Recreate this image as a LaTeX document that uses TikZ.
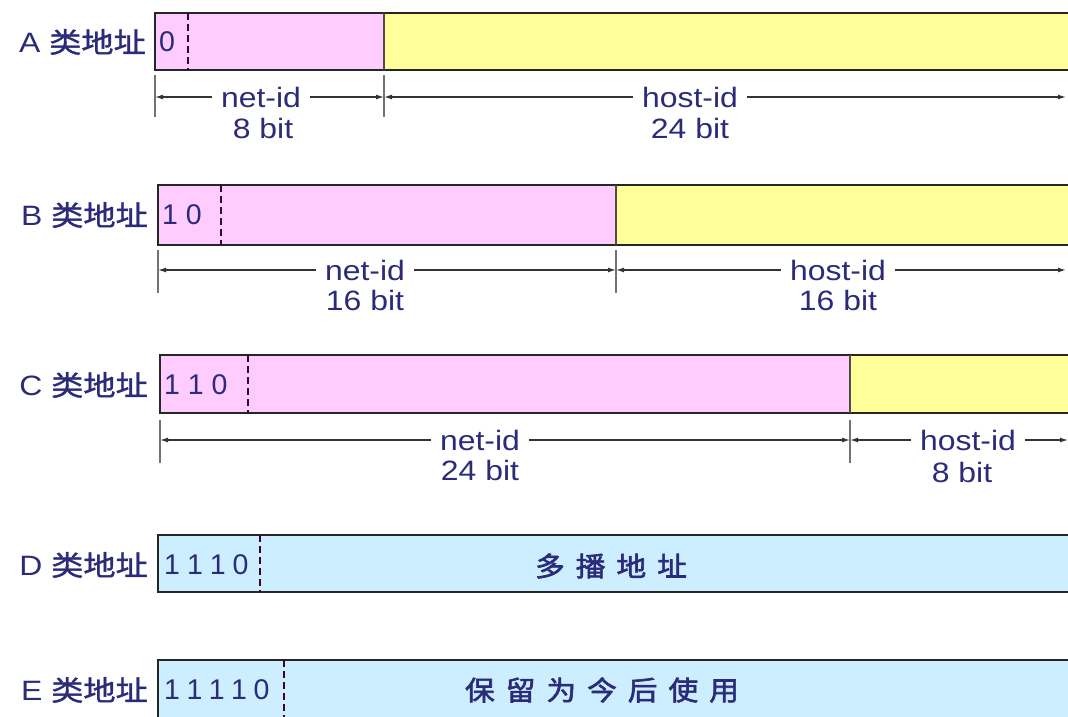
\documentclass[tikz,border=0pt]{standalone}
\usepackage{fontspec}
\setmainfont[FakeStretch=1.14]{Liberation Sans}
\newfontfamily\plain{Liberation Sans}
\newfontfamily\cjk[FakeBold=1.2, FakeStretch=1.15]{Noto Sans CJK SC}
\newfontfamily\cjkb[FakeBold=2.2, FakeStretch=1.1]{Noto Sans CJK SC}
\usetikzlibrary{arrows.meta}
\definecolor{txt}{HTML}{2B2B7A}
\definecolor{pinkf}{HTML}{FFCCFF}
\definecolor{yellowf}{HTML}{FFFF99}
\definecolor{bluef}{HTML}{CCEEFF}
\newcommand{\cs}{\hspace{11pt}}
\begin{document}
\begin{tikzpicture}[x=1pt,y=-1pt,
 lbl/.style={text=txt,font=\fontsize{28}{30}\selectfont, inner sep=0pt},
 digits/.style={text=txt,font=\plain\fontsize{28.5}{30}\selectfont, inner sep=0pt},
 boxline/.style={draw=black!85, line width=2.6pt},
 divider/.style={draw=black!70, line width=1.6pt},
 dashdiv/.style={draw=violet!50!black, line width=2pt, dash pattern=on 7pt off 4pt},
 tickline/.style={draw=black!55, line width=1.6pt},
 dim/.style={draw=black!80, line width=1.3pt, {Latex[length=8pt,width=5pt]}-{Latex[length=8pt,width=5pt]}},
 dimtxt/.style={lbl, fill=white, inner xsep=9pt, inner ysep=2pt},
]
\useasboundingbox (0,0) rectangle (1068,716);
\clip (0,0) rectangle (1068,716);
\fill[white] (0,0) rectangle (1068,716);

% ---------- A ----------
\fill[pinkf] (155,13) rectangle (384,70);
\fill[yellowf] (384,13) rectangle (1080,70);
\draw[boxline] (1080,13) -- (155,13) -- (155,70) -- (1080,70);
\draw[divider] (384,13) -- (384,70);
\draw[dashdiv] (188,13) -- (188,70);
\node[lbl, anchor=east] (la) at (146,42) {A {\cjk 类地址}};
\node[digits, anchor=west] (ba) at (159,42) {0};
\draw[tickline] (155,75) -- (155,117);
\draw[tickline] (384,75) -- (384,117);
\coordinate (a0) at (155,97);
\coordinate (a1) at (384,97);
\coordinate (a2) at (1066,97);
\draw[dim] (a0) -- (a1);
\draw[dim] (a1) -- (a2);
\node[dimtxt] (an) at (261,97) {net-id};
\node[lbl] (anb) at (263,128) {8 bit};
\node[dimtxt] (ah) at (690,97) {host-id};
\node[lbl] (ahb) at (690,128) {24 bit};

% ---------- B ----------
\fill[pinkf] (158,185) rectangle (616,245);
\fill[yellowf] (616,185) rectangle (1080,245);
\draw[boxline] (1080,185) -- (158,185) -- (158,245) -- (1080,245);
\draw[divider] (616,185) -- (616,245);
\draw[dashdiv] (221,185) -- (221,245);
\node[lbl, anchor=east] (lb) at (148,215) {B {\cjk 类地址}};
\node[digits, anchor=west] (bb) at (162,215) {1 0};
\draw[tickline] (158,250) -- (158,293);
\draw[tickline] (616,250) -- (616,293);
\coordinate (b0) at (158,270);
\coordinate (b1) at (616,270);
\coordinate (b2) at (1066,270);
\draw[dim] (b0) -- (b1);
\draw[dim] (b1) -- (b2);
\node[dimtxt] (bn) at (365,270) {net-id};
\node[lbl] (bnb) at (365,300) {16 bit};
\node[dimtxt] (bh) at (838,270) {host-id};
\node[lbl] (bhb) at (838,300) {16 bit};

% ---------- C ----------
\fill[pinkf] (160,355) rectangle (850,413);
\fill[yellowf] (850,355) rectangle (1080,413);
\draw[boxline] (1080,355) -- (160,355) -- (160,413) -- (1080,413);
\draw[divider] (850,355) -- (850,413);
\draw[dashdiv] (248,355) -- (248,413);
\node[lbl, anchor=east] (lc) at (148,385) {C {\cjk 类地址}};
\node[digits, anchor=west] (bc) at (164,385) {1 1 0};
\draw[tickline] (160,420) -- (160,463);
\draw[tickline] (850,420) -- (850,463);
\coordinate (c0) at (160,440);
\coordinate (c1) at (850,440);
\coordinate (c2) at (1068,440);
\draw[dim] (c0) -- (c1);
\draw[dim] (c1) -- (c2);
\node[dimtxt] (cn) at (480,440) {net-id};
\node[lbl] (cnb) at (480,470) {24 bit};
\node[dimtxt] (ch) at (968,440) {host-id};
\node[lbl] (chb) at (962,472) {8 bit};

% ---------- D ----------
\fill[bluef] (158,535) rectangle (1080,592);
\draw[boxline] (1080,535) -- (158,535) -- (158,592) -- (1080,592);
\draw[dashdiv] (260,535) -- (260,592);
\node[lbl, anchor=east] (ld) at (148,565) {D {\cjk 类地址}};
\node[digits, anchor=west] (bd) at (164,565) {1\kern7pt1\kern7pt1\kern7pt0};
\node[lbl] (td) at (611,566) {\cjkb\fontsize{27}{30}\selectfont 多\cs 播\cs 地\cs 址};

% ---------- E ----------
\fill[bluef] (158,660) rectangle (1080,730);
\draw[boxline] (1080,660) -- (158,660) -- (158,730);
\draw[dashdiv] (284,660) -- (284,730);
\node[lbl, anchor=east] (le) at (148,690) {E {\cjk 类地址}};
\node[digits, anchor=west] (be) at (164,690) {1\kern6.5pt1\kern6.5pt1\kern6.5pt1\kern6.5pt0};
\node[lbl] (te) at (602,690) {\cjkb\fontsize{27}{30}\selectfont 保\cs 留\cs 为\cs 今\cs 后\cs 使\cs 用};
\end{tikzpicture}
\end{document}
